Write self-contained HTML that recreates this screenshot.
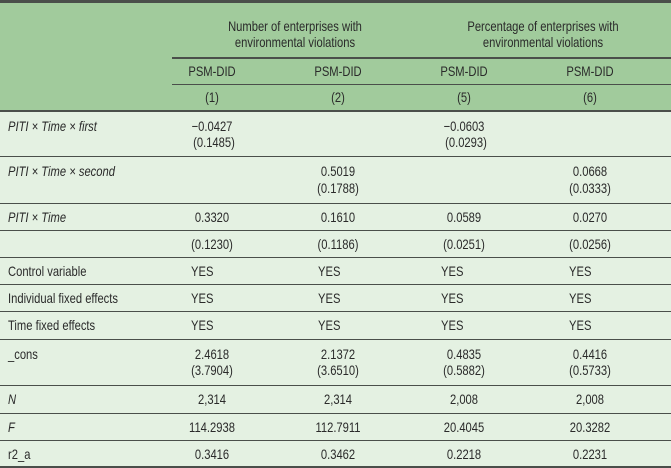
<!DOCTYPE html>
<html><head><meta charset="utf-8"><style>
html,body{margin:0;padding:0}
body{width:671px;height:468px;position:relative;background:#e4f1e2;font-family:"Liberation Sans",sans-serif;font-size:14px;color:#2a2a2a;overflow:hidden}
.hd{position:absolute;left:0;top:0;width:671px;height:110px;background:#a1cb9c}
.ln{position:absolute;background:#4a4f4a;height:1.7px}
.l,.c{position:absolute;white-space:nowrap;line-height:16px;height:16px}
.l{transform-origin:0 50%;transform:scaleX(.8)}
.c{transform-origin:50% 50%;transform:translateX(-50%) scaleX(.8)}
.ih{font-style:italic}
</style></head><body>
<div class="hd"></div>
<div class="ln" style="left:0;top:0;width:671px;height:2.5px"></div>
<div class="ln" style="left:172px;top:57px;width:499px"></div>
<div class="ln" style="left:172px;top:83.5px;width:499px"></div>
<div class="ln" style="left:0;top:109.5px;width:671px;height:2px"></div>
<div class="ln" style="left:0;top:155.5px;width:671px"></div>
<div class="ln" style="left:0;top:202.5px;width:671px"></div>
<div class="ln" style="left:0;top:229.5px;width:671px"></div>
<div class="ln" style="left:0;top:256.5px;width:671px"></div>
<div class="ln" style="left:0;top:283.5px;width:671px"></div>
<div class="ln" style="left:0;top:310.5px;width:671px"></div>
<div class="ln" style="left:0;top:338.5px;width:671px"></div>
<div class="ln" style="left:0;top:384.5px;width:671px"></div>
<div class="ln" style="left:0;top:412.5px;width:671px"></div>
<div class="ln" style="left:0;top:439.5px;width:671px"></div>
<div class="ln" style="left:0;top:466px;width:671px;height:2px"></div>

<div class="c" style="left:295px;top:18px">Number of enterprises with</div>
<div class="c" style="left:295px;top:34px">environmental violations</div>
<div class="c" style="left:543px;top:18px">Percentage of enterprises with</div>
<div class="c" style="left:543px;top:34px">environmental violations</div>

<div class="c" style="left:212px;top:63px">PSM-DID</div>
<div class="c" style="left:338px;top:63px">PSM-DID</div>
<div class="c" style="left:464px;top:63px">PSM-DID</div>
<div class="c" style="left:590px;top:63px">PSM-DID</div>
<div class="c" style="left:212px;top:89px">(1)</div>
<div class="c" style="left:338px;top:89px">(2)</div>
<div class="c" style="left:464px;top:89px">(5)</div>
<div class="c" style="left:590px;top:89px">(6)</div>

<div class="l ih" style="left:8px;top:118px">PITI × Time × first</div>
<div class="c" style="left:212px;top:118px">−0.0427</div>
<div class="c" style="left:214px;top:134px">(0.1485)</div>
<div class="c" style="left:464px;top:118px">−0.0603</div>
<div class="c" style="left:466px;top:134px">(0.0293)</div>

<div class="l ih" style="left:8px;top:163px">PITI × Time × second</div>
<div class="c" style="left:338px;top:163px">0.5019</div>
<div class="c" style="left:338px;top:180px">(0.1788)</div>
<div class="c" style="left:590px;top:163px">0.0668</div>
<div class="c" style="left:590px;top:180px">(0.0333)</div>

<div class="l ih" style="left:8px;top:209px">PITI × Time</div>
<div class="c" style="left:212px;top:209px">0.3320</div>
<div class="c" style="left:338px;top:209px">0.1610</div>
<div class="c" style="left:464px;top:209px">0.0589</div>
<div class="c" style="left:590px;top:209px">0.0270</div>

<div class="c" style="left:212px;top:236px">(0.1230)</div>
<div class="c" style="left:338px;top:236px">(0.1186)</div>
<div class="c" style="left:464px;top:236px">(0.0251)</div>
<div class="c" style="left:590px;top:236px">(0.0256)</div>

<div class="l" style="left:8px;top:263px">Control variable</div>
<div class="l" style="left:191px;top:263px">YES</div>
<div class="l" style="left:318px;top:263px">YES</div>
<div class="l" style="left:441px;top:263px">YES</div>
<div class="l" style="left:569px;top:263px">YES</div>

<div class="l" style="left:8px;top:290px">Individual fixed effects</div>
<div class="l" style="left:191px;top:290px">YES</div>
<div class="l" style="left:318px;top:290px">YES</div>
<div class="l" style="left:441px;top:290px">YES</div>
<div class="l" style="left:569px;top:290px">YES</div>

<div class="l" style="left:8px;top:317px">Time fixed effects</div>
<div class="l" style="left:191px;top:317px">YES</div>
<div class="l" style="left:318px;top:317px">YES</div>
<div class="l" style="left:441px;top:317px">YES</div>
<div class="l" style="left:569px;top:317px">YES</div>

<div class="l" style="left:8px;top:346px">_cons</div>
<div class="c" style="left:212px;top:346px">2.4618</div>
<div class="c" style="left:212px;top:362px">(3.7904)</div>
<div class="c" style="left:338px;top:346px">2.1372</div>
<div class="c" style="left:338px;top:362px">(3.6510)</div>
<div class="c" style="left:464px;top:346px">0.4835</div>
<div class="c" style="left:464px;top:362px">(0.5882)</div>
<div class="c" style="left:590px;top:346px">0.4416</div>
<div class="c" style="left:590px;top:362px">(0.5733)</div>

<div class="l ih" style="left:8px;top:391px">N</div>
<div class="c" style="left:212px;top:391px">2,314</div>
<div class="c" style="left:338px;top:391px">2,314</div>
<div class="c" style="left:464px;top:391px">2,008</div>
<div class="c" style="left:590px;top:391px">2,008</div>

<div class="l ih" style="left:8px;top:419px">F</div>
<div class="c" style="left:212px;top:419px">114.2938</div>
<div class="c" style="left:338px;top:419px">112.7911</div>
<div class="c" style="left:464px;top:419px">20.4045</div>
<div class="c" style="left:590px;top:419px">20.3282</div>

<div class="l" style="left:8px;top:446px">r2_a</div>
<div class="c" style="left:212px;top:446px">0.3416</div>
<div class="c" style="left:338px;top:446px">0.3462</div>
<div class="c" style="left:464px;top:446px">0.2218</div>
<div class="c" style="left:590px;top:446px">0.2231</div>
</body></html>
